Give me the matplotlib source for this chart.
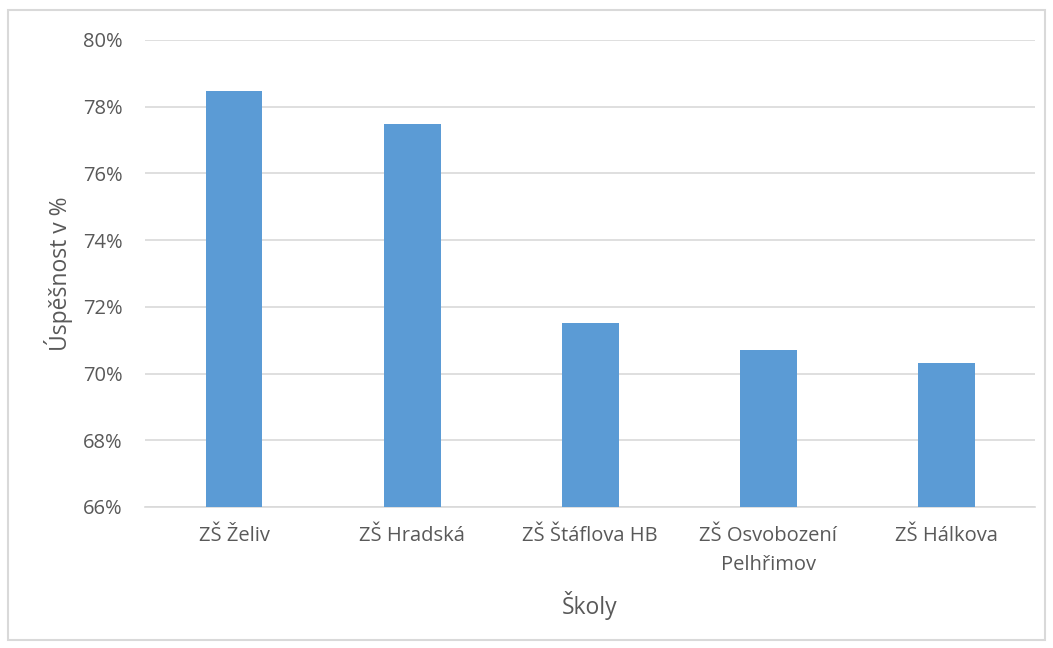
import matplotlib
matplotlib.use("Agg")
import matplotlib.pyplot as plt
from matplotlib.patches import Rectangle
from matplotlib.ticker import FuncFormatter

# data
skoly = ["ZŠ Želiv", "ZŠ Hradská", "ZŠ Štáflova HB", "ZŠ Osvobození\nPelhřimov", "ZŠ Hálkova"]
uspesnost = [78.47, 77.48, 71.52, 70.72, 70.33]
y_ticks = [66, 68, 70, 72, 74, 76, 78, 80]

plt.rcParams['font.family'] = ['Open Sans', 'DejaVu Sans']

fig = plt.figure(figsize=(10.53, 6.48), dpi=100)
ax = fig.add_axes([0.1377, 0.2176, 0.8453, 0.7207])

x = list(range(len(skoly)))
ax.bar(x, uspesnost, width=0.32, color="#5B9BD5", zorder=3)

ax.set_ylim(66, 80)
ax.set_xlim(-0.5, len(skoly) - 0.5)
ax.set_yticks(y_ticks)
ax.yaxis.set_major_formatter(FuncFormatter(lambda v, p: "%d%%" % v))
ax.set_xticks(x)
ax.set_xticklabels(skoly, linespacing=1.6)

ax.grid(axis="y", color="#D9D9D9", linewidth=1.2, zorder=0)
for s in ["top", "right", "left"]:
    ax.spines[s].set_visible(False)
ax.spines["bottom"].set_color("#D9D9D9")
ax.spines["bottom"].set_linewidth(1.2)
ax.tick_params(axis="both", length=0, labelsize=14.5, labelcolor="#595959")
ax.tick_params(axis="y", pad=16)
ax.tick_params(axis="x", pad=14)

ax.set_ylabel("Úspěšnost v %", fontsize=16.5, color="#595959", labelpad=7)
ax.set_xlabel("Školy", fontsize=16.5, color="#595959", labelpad=11)

# light frame around the whole chart
fig.patches.append(Rectangle((8 / 1053, 8 / 648), 1037 / 1053, 630 / 648,
                             transform=fig.transFigure, fill=False,
                             edgecolor="#D9D9D9", linewidth=1.5))

fig.savefig("out.png", dpi=100)
